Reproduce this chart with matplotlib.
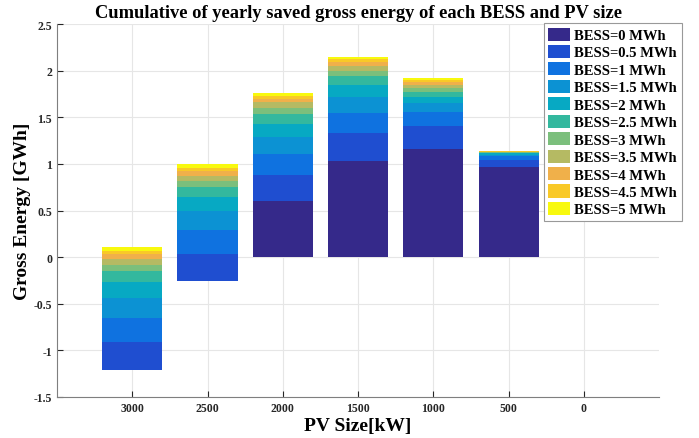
import numpy as np
import matplotlib
matplotlib.use('Agg')
import matplotlib.pyplot as plt

# PV sizes (kW) on the x axis
pv_sizes = ['3000', '2500', '2000', '1500', '1000', '500', '0']
bess_labels = ['BESS=0 MWh', 'BESS=0.5 MWh', 'BESS=1 MWh', 'BESS=1.5 MWh',
               'BESS=2 MWh', 'BESS=2.5 MWh', 'BESS=3 MWh', 'BESS=3.5 MWh',
               'BESS=4 MWh', 'BESS=4.5 MWh', 'BESS=5 MWh']

# saved gross energy added by each BESS step (GWh), one list per PV size
e_3000 = [-1.21, 0.30, 0.26, 0.21, 0.17, 0.12, 0.07, 0.06, 0.05, 0.04, 0.04]
e_2500 = [-0.26, 0.29, 0.26, 0.20, 0.15, 0.11, 0.07, 0.05, 0.05, 0.04, 0.04]
e_2000 = [0.60, 0.28, 0.23, 0.18, 0.14, 0.10, 0.07, 0.06, 0.04, 0.03, 0.03]
e_1500 = [1.03, 0.30, 0.22, 0.17, 0.13, 0.09, 0.06, 0.05, 0.04, 0.03, 0.03]
e_1000 = [1.16, 0.25, 0.15, 0.09, 0.07, 0.05, 0.04, 0.035, 0.03, 0.023, 0.022]
e_500 = [0.97, 0.075, 0.035, 0.02, 0.012, 0.008, 0.005, 0.004, 0.003, 0.003, 0.003]
e_0 = [0, 0, 0, 0, 0, 0, 0, 0, 0, 0, 0]

colors = ['#35298a', '#1f4ed0', '#0f72e0', '#0c92d3', '#07a9c3', '#33b89e',
          '#7bbf7c', '#b5ba63', '#f0b04a', '#f9c927', '#f8f90e']

plt.rcParams['font.family'] = ['Liberation Serif', 'DejaVu Serif']
plt.rcParams['font.weight'] = 'bold'

data = np.array([e_3000, e_2500, e_2000, e_1500, e_1000, e_500, e_0])
x = np.arange(1, len(pv_sizes) + 1)

fig = plt.figure(figsize=(6.99, 4.39), dpi=100)
ax = fig.add_axes([0.0815, 0.0934, 0.8615, 0.8496])

# old-style matlab stacking: each step starts where the previous one ended
bottom = np.zeros(len(x))
for k in range(data.shape[1]):
  ax.bar(x, data[:, k], bottom=bottom, width=0.8, color=colors[k],
         label=bess_labels[k], linewidth=0, zorder=2 + k)
  bottom = bottom + data[:, k]

ax.set_xlim(0, 8)
ax.set_ylim(-1.5, 2.5)
ax.set_xticks(x)
ax.set_xticklabels(pv_sizes)
ax.set_yticks(np.arange(-1.5, 2.51, 0.5))
ax.set_yticklabels(['-1.5', '-1', '-0.5', '0', '0.5', '1', '1.5', '2', '2.5'])
ax.tick_params(direction='in', labelsize=8.5, colors='#262626', length=4)
for lab in ax.get_xticklabels() + ax.get_yticklabels():
  lab.set_fontweight('bold')
ax.grid(True, color='#e6e6e6', linewidth=0.8, zorder=0)
ax.set_axisbelow(True)
for s in ['top', 'right']:
  ax.spines[s].set_visible(False)
for s in ['left', 'bottom']:
  ax.spines[s].set_color('#7f7f7f')

ax.set_title('Cumulative of yearly saved gross energy of each BESS and PV size',
             fontsize=13.3, fontweight='bold', pad=5)
ax.set_xlabel('PV Size[kW]', fontsize=14, fontweight='bold', labelpad=2)
ax.set_ylabel('Gross Energy [GWh]', fontsize=14, fontweight='bold', labelpad=2)

leg = ax.legend(loc='upper right', bbox_to_anchor=(0.975, 0.945),
                bbox_transform=fig.transFigure, borderaxespad=0,
                fontsize=10.5, handlelength=1.5, handleheight=1.0,
                labelspacing=0.2, handletextpad=0.3, borderpad=0.3,
                fancybox=False, framealpha=1)
leg.get_frame().set_edgecolor('#999999')
leg.get_frame().set_linewidth(0.8)
for t in leg.get_texts():
  t.set_fontweight('bold')

fig.savefig('out.png', dpi=100)
